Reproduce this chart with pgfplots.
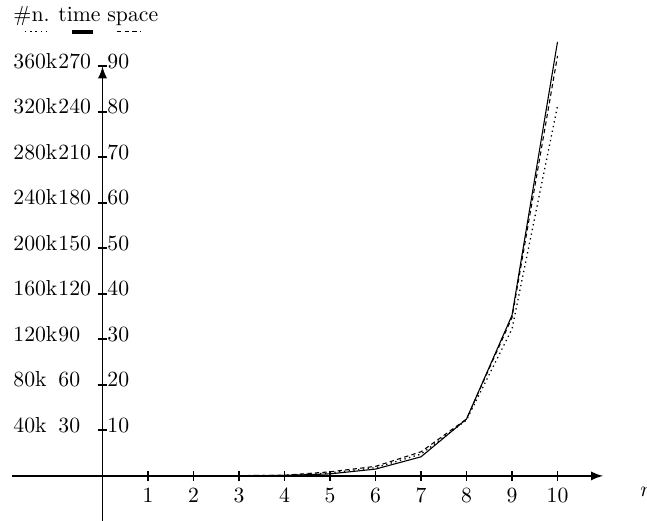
\documentclass[border=0pt]{standalone}
\usepackage{pgfplots}
\pgfplotsset{compat=1.18}
\begin{document}
\begin{tikzpicture}
\begin{axis}[
  x=20.97pt, y=2.097pt,
  axis lines=middle,
  axis line style={line width=0.9pt,-latex},
  xmin=-2, xmax=11, ymin=-10, ymax=90,
  xtick={1,...,10}, ytick={10,20,...,90},
  yticklabels={},
  tick align=center, major tick length=4.4pt,
  tick style={line width=0.9pt,black},
  clip=false,
  every tick label/.append style={font=\normalsize},
]
% plotted in "space" units (10 per tick)
\addplot[black, line width=0.5pt] coordinates
  {(3,0.05)(4,0.1)(5,0.45)(6,1.5)(7,4.2)(8,12.5)(9,35.3)(10,95.4)};
\addplot[black, line width=0.5pt, dash pattern=on 2pt off 1.5pt] coordinates
  {(3,0.05)(4,0.15)(5,0.9)(6,2.1)(7,5.3)(8,12.5)(9,34.8)(10,92.3)};
\addplot[black, line width=0.6pt, dash pattern=on 0.6pt off 1.6pt] coordinates
  {(3,0.05)(4,0.1)(5,0.65)(6,1.8)(7,4.8)(8,12.3)(9,32.3)(10,81.3)};

% legend
\node[anchor=base west, inner sep=0] at (axis cs:-1.967,99.8) {\#n.};
\node[anchor=base west, inner sep=0] at (axis cs:-0.978,99.8) {time};
\node[anchor=base west, inner sep=0] at (axis cs:0.099,99.8) {space};
\draw[line width=0.6pt, dash pattern=on 0.6pt off 1.8pt] (axis cs:-1.703,97.6) -- (axis cs:-1.176,97.6);
\draw[line width=1.6pt] (axis cs:-0.670,97.6) -- (axis cs:-0.209,97.6);
\draw[line width=0.5pt, dash pattern=on 2pt off 1.5pt] (axis cs:0.319,97.6) -- (axis cs:0.824,97.6);

% three label columns: #n., time, space
\begin{scope}[every node/.style={anchor=base west, inner sep=0}]
\node at (axis cs:-1.967,9.56) {40k};  \node at (axis cs:-0.978,9.56) {30};  \node at (axis cs:0.099,9.56) {10};
\node at (axis cs:-1.967,19.56) {80k}; \node at (axis cs:-0.978,19.56) {60}; \node at (axis cs:0.099,19.56) {20};
\node at (axis cs:-1.967,29.56) {120k}; \node at (axis cs:-0.978,29.56) {90}; \node at (axis cs:0.099,29.56) {30};
\node at (axis cs:-1.967,39.56) {160k}; \node at (axis cs:-0.978,39.56) {120}; \node at (axis cs:0.099,39.56) {40};
\node at (axis cs:-1.967,49.56) {200k}; \node at (axis cs:-0.978,49.56) {150}; \node at (axis cs:0.099,49.56) {50};
\node at (axis cs:-1.967,59.56) {240k}; \node at (axis cs:-0.978,59.56) {180}; \node at (axis cs:0.099,59.56) {60};
\node at (axis cs:-1.967,69.56) {280k}; \node at (axis cs:-0.978,69.56) {210}; \node at (axis cs:0.099,69.56) {70};
\node at (axis cs:-1.967,79.56) {320k}; \node at (axis cs:-0.978,79.56) {240}; \node at (axis cs:0.099,79.56) {80};
\node at (axis cs:-1.967,89.56) {360k}; \node at (axis cs:-0.978,89.56) {270}; \node at (axis cs:0.099,89.56) {90};
\end{scope}

\node[anchor=base west, inner sep=0] at (axis cs:11.81,-4.6) {$n$};

\coordinate (bl) at (axis cs:-2.253,-9.9);
\coordinate (tr) at (axis cs:11.967,104.6);
\end{axis}
\pgfresetboundingbox
\useasboundingbox (bl) rectangle (tr);
\end{tikzpicture}
\end{document}
